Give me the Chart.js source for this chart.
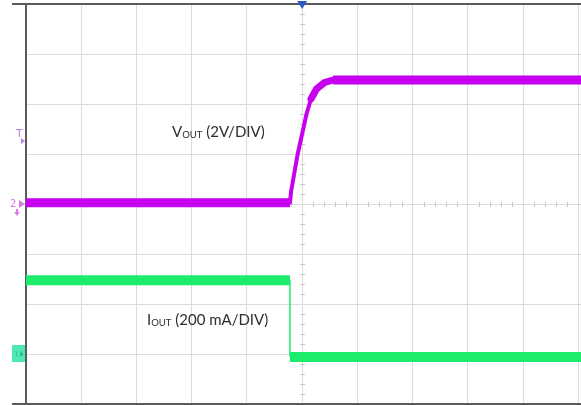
<!DOCTYPE html>
<html>
<head>
<meta charset="utf-8">
<script src="https://cdn.jsdelivr.net/npm/chart.js@4.4.0/dist/chart.umd.min.js"></script>
<style>
html, body { margin: 0; padding: 0; background: #fff; }
</style>
</head>
<body>
<canvas id="scope" width="581" height="405"></canvas>
<script>
// screen divisions: 10 across (time), 8 up
const timeDivs = [0, 1, 2, 3, 4, 5, 6, 7, 8, 9, 10];
const levelDivs = [0, 1, 2, 3, 4, 5, 6, 7, 8];

// VOUT in volts, 2 V/div, ground on div 4
const voutTime = [0, 4.78, 4.80, 4.84, 4.92, 5.0, 5.08, 5.16, 5.26, 5.40, 5.56, 10.05];
const voutVolts = [0.05, 0.05, 0.5, 1.0, 2.0, 2.8, 3.6, 4.2, 4.6, 4.85, 4.96, 4.96];

// IOUT in mA, 200 mA/div, ground on div 1
const ioutTime = [0, 4.78, 4.78, 10.05];
const ioutMilliamps = [295, 295, -12, -12];

const ctx = document.getElementById('scope');

const toPoints = (xs, ys) => xs.map((x, i) => ({ x: x, y: ys[i] }));

function slope(c) {
    const dx = Math.abs(c.p1.x - c.p0.x);
    const dy = Math.abs(c.p1.y - c.p0.y);
    return dx < 0.5 ? Infinity : dy / dx;
}

// flat parts of a trace are a thick noisy band, edges get thinner
function traceWidth(flat, bend, edge) {
    return c => {
        const s = slope(c);
        if (s < 0.25) return flat;
        if (s < 2) return bend;
        return edge;
    };
}

const scopeDecor = {
    id: 'scopeDecor',
    beforeDatasetsDraw(chart) {
        const g = chart.ctx;
        const x = chart.scales.x;
        const y = chart.scales.y;
        const area = chart.chartArea;
        const cy = y.getPixelForValue(4);
        const cx = x.getPixelForValue(5);

        g.save();
        // minor ticks on the centre lines
        g.strokeStyle = '#c8c8c8';
        g.lineWidth = 1;
        g.beginPath();
        for (let t = 0.2; t < 10.05; t += 0.2) {
            if (Math.abs(t - Math.round(t)) < 0.01) continue;
            const px = Math.round(x.getPixelForValue(t)) + 0.5;
            g.moveTo(px, cy - 2);
            g.lineTo(px, cy + 3);
        }
        for (let v = 0.2; v < 8; v += 0.2) {
            if (Math.abs(v - Math.round(v)) < 0.01) continue;
            const py = Math.round(y.getPixelForValue(v)) + 0.5;
            g.moveTo(cx - 2, py);
            g.lineTo(cx + 3, py);
        }
        g.stroke();

        // frame
        g.strokeStyle = '#5a5a5a';
        g.lineWidth = 2;
        g.beginPath();
        g.moveTo(12, area.top);
        g.lineTo(area.right, area.top);
        g.moveTo(12, area.bottom);
        g.lineTo(area.right, area.bottom);
        g.moveTo(area.left, area.top);
        g.lineTo(area.left, area.bottom);
        g.stroke();
        g.restore();
    },
    afterDatasetsDraw(chart) {
        const g = chart.ctx;
        const x = chart.scales.x;
        const yV = chart.scales.yV;
        const yI = chart.scales.yI;
        const area = chart.chartArea;

        g.save();
        // trace labels with subscripts
        function label(px, py, main, sub, rest) {
            g.fillStyle = '#2e2e2e';
            g.textBaseline = 'alphabetic';
            g.font = '15px Lato, "Open Sans", sans-serif';
            g.fillText(main, px, py);
            let w = g.measureText(main).width;
            g.font = '9.5px Lato, "Open Sans", sans-serif';
            g.fillText(sub, px + w, py + 1);
            w += g.measureText(sub).width;
            g.font = '15px Lato, "Open Sans", sans-serif';
            g.fillText(rest, px + w, py);
        }
        label(172, 137, 'V', 'OUT', ' (2V/DIV)');
        label(147, 325, 'I', 'OUT', ' (200 mA/DIV)');

        // trigger position marker
        const tx = x.getPixelForValue(5);
        g.fillStyle = '#2b5cc6';
        g.beginPath();
        g.moveTo(tx - 5, area.top - 3);
        g.lineTo(tx + 5, area.top - 3);
        g.lineTo(tx, area.top + 5);
        g.closePath();
        g.fill();

        // trigger level marker
        g.fillStyle = '#b884dd';
        g.font = '11px "DejaVu Sans", sans-serif';
        g.fillText('T', 16, 137);
        g.beginPath();
        g.moveTo(21, 138);
        g.lineTo(25, 141);
        g.lineTo(21, 144);
        g.closePath();
        g.fill();

        // channel 2 ground marker
        const g2 = yV.getPixelForValue(0);
        g.fillStyle = '#d67ee6';
        g.font = '10px "DejaVu Sans", sans-serif';
        g.fillText('2', 10, g2 + 3);
        g.beginPath();
        g.moveTo(19, g2 - 4);
        g.lineTo(25, g2);
        g.lineTo(19, g2 + 4);
        g.closePath();
        g.fill();
        g.fillRect(16, g2 + 5, 2, 4);
        g.beginPath();
        g.moveTo(14, g2 + 8);
        g.lineTo(20, g2 + 8);
        g.lineTo(17, g2 + 12);
        g.closePath();
        g.fill();

        // channel 1 ground marker
        const g1 = yI.getPixelForValue(0);
        g.fillStyle = '#4ee8b4';
        g.fillRect(12, g1 - 9, 13, 17);
        g.fillStyle = '#2fbf8a';
        g.font = '7px "DejaVu Sans", sans-serif';
        g.fillText('1', 14, g1 + 2);
        g.beginPath();
        g.moveTo(20, g1 - 3);
        g.lineTo(24, g1);
        g.lineTo(20, g1 + 3);
        g.closePath();
        g.fill();
        g.restore();
    }
};

new Chart(ctx, {
    type: 'line',
    data: {
        datasets: [
            {
                label: 'VOUT',
                data: toPoints(voutTime, voutVolts),
                yAxisID: 'yV',
                borderColor: '#c800f0',
                borderWidth: 9,
                pointRadius: 0,
                tension: 0,
                segment: {
                    borderWidth: traceWidth(9, 7, 4),
                    borderCapStyle: c => slope(c) < 0.25 ? 'butt' : 'round'
                }
            },
            {
                label: 'IOUT',
                data: toPoints(ioutTime, ioutMilliamps),
                yAxisID: 'yI',
                borderColor: '#1deb6c',
                borderWidth: 10,
                pointRadius: 0,
                tension: 0,
                segment: {
                    borderWidth: traceWidth(10, 1.5, 1.5)
                }
            }
        ]
    },
    options: {
        responsive: false,
        animation: false,
        devicePixelRatio: 1,
        layout: {
            padding: { left: 26, top: 4, right: 0, bottom: 1 }
        },
        scales: {
            x: {
                type: 'linear',
                min: 0,
                max: 10.05,
                afterBuildTicks: axis => { axis.ticks = timeDivs.map(v => ({ value: v })); },
                ticks: { display: false },
                border: { display: false },
                grid: { color: '#dcdcdc', lineWidth: 1, drawTicks: false }
            },
            y: {
                type: 'linear',
                min: 0,
                max: 8,
                afterBuildTicks: axis => { axis.ticks = levelDivs.map(v => ({ value: v })); },
                ticks: { display: false },
                border: { display: false },
                grid: { color: '#dcdcdc', lineWidth: 1, drawTicks: false }
            },
            yV: { type: 'linear', min: -8, max: 8, display: false },
            yI: { type: 'linear', min: -200, max: 1400, display: false }
        },
        plugins: {
            legend: { display: false },
            tooltip: { enabled: false }
        }
    },
    plugins: [scopeDecor]
});
</script>
</body>
</html>
